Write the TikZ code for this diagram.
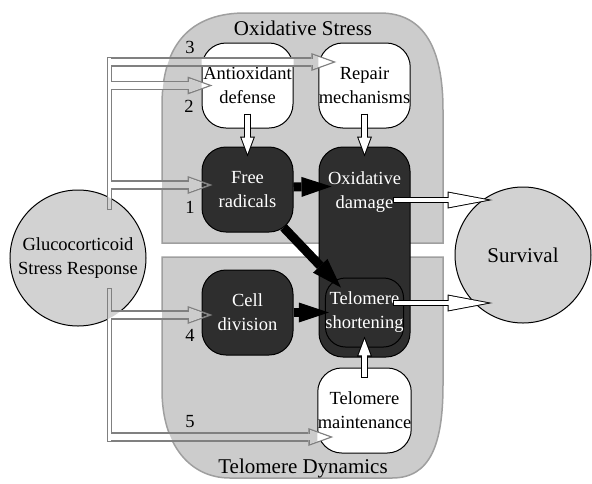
\documentclass[tikz,border=0pt]{standalone}
\usepackage{fontspec}
\setmainfont{Liberation Serif}
\newfontfamily\libserif{Liberation Serif}
\usetikzlibrary{arrows.meta}

\newcommand\boxtxt{\libserif\fontsize{18.5}{24}\selectfont}
\newcommand\titletxt{\libserif\fontsize{21}{25}\selectfont}

\tikzset{
  panel/.style={fill=gray!40, draw=gray!75, line width=1.5pt},
  lightbox/.style={rectangle, rounded corners=24pt, draw=black, line width=1pt, fill=white,
    minimum width=91pt, minimum height=85pt, inner sep=0pt, align=center, font=\boxtxt},
  darkbox/.style={lightbox, fill=black!82, text=white},
  roundnode/.style={circle, draw=black, line width=1pt, fill=gray!35, minimum size=136pt,
    inner sep=0pt, align=center, font=\boxtxt},
  paneltitle/.style={font=\titletxt},
  num/.style={font=\boxtxt, inner sep=0pt},
  % gray hollow arrows (outline pass, then inside pass)
  gtrunk/.style={draw=gray, line width=5.5pt},
  gtrunkin/.style={line width=2.7pt, shorten <=1.4pt, shorten >=1.4pt},
  gbranch/.style={draw=gray, line width=9.5pt, -{Triangle[length=25pt,width=18pt,line width=0pt]}},
  gbranchin/.style={line width=6.7pt, shorten <=1.4pt, shorten >=4.2pt,
    -{Triangle[length=19pt,width=13.6pt,line width=0pt]}},
  % white arrows with black outline
  wsmall/.style={draw=black, line width=7pt, -{Triangle[length=20pt,width=15pt,line width=0pt]}},
  wsmallin/.style={draw=white, line width=5pt, shorten <=1pt, shorten >=2.8pt,
    -{Triangle[length=16pt,width=12pt,line width=0pt]}},
  wlong/.style={draw=black, line width=6.5pt, -{Triangle[length=45pt,width=17pt,line width=0pt]}},
  wlongin/.style={draw=white, line width=4.5pt, shorten <=1pt, shorten >=5pt,
    -{Triangle[length=39pt,width=14.7pt,line width=0pt]}},
  % black arrows
  blackarrow/.style={draw=black, line width=9pt, -{Triangle[length=30pt,width=20pt,line width=0pt]}}
}

\newcommand\graybranches[2]{%
  \draw[#1] (upbot) -- (uptop);
  \draw[#1] (lowtop) -- (lowbot);
  \foreach \from/\to in {b3/t3, b2/t2, b1/t1, b4/t4, b5/t5}
    \draw[#2] (\from) -- (\to);
}
\newcommand\grayinside[1]{\graybranches{gtrunkin, draw=#1}{gbranchin, draw=#1}}

\begin{document}
\begin{tikzpicture}[x=1pt, y=-1pt]
  \useasboundingbox (0,0) rectangle (592,483);

  % panels
  \draw[panel] (162,105) .. controls (162,40) and (195,13) .. (245,13) -- (380,13)
    .. controls (425,13) and (443,50) .. (443,110) -- (443,243) -- (162,243) -- cycle;
  \draw[panel] (162,257) -- (443,257) -- (443,385) .. controls (443,445) and (430,478) .. (392,478)
    -- (230,478) .. controls (190,478) and (162,445) .. (162,390) -- cycle;
  \node[paneltitle] (oxtitle) at (303,28) {Oxidative Stress};
  \node[paneltitle, anchor=base] (teltitle) at (303,473) {Telomere Dynamics};

  % stress response and outcome
  \node[roundnode] (gluco) at (78,258) {Glucocorticoid\\Stress Response};
  \node[roundnode, font=\titletxt] (surv) at (523,255) {Survival};

  % oxidative stress
  \node[lightbox] (antiox) at (247.5,85.5) {Antioxidant\\defense};
  \node[lightbox] (repair) at (364.5,85.5) {Repair\\mechanisms};
  \node[darkbox] (frad) at (247.5,189.5) {Free\\radicals};
  \node[darkbox, minimum height=210pt] (oxdam) at (364.5,252) {};
  \node[font=\boxtxt, text=white, align=center] (oxdamtxt) at (364.5,192) {Oxidative\\damage};

  % telomere dynamics
  \node[darkbox] (celldiv) at (247.5,312.5) {Cell\\division};
  \node[darkbox, minimum width=78pt, minimum height=69pt, rounded corners=20pt] (telsh)
    at (364.5,312.5) {Telomere\\shortening};
  \node[lightbox] (telmain) at (364.5,410.5) {Telomere\\maintenance};

  % black arrows
  \draw[blackarrow] ([yshift=2.5pt]frad.east) -- ([shift={(13,40)}]oxdam.north west);
  \draw[blackarrow, shorten <=-7pt] (frad) -- ([shift={(16,10)}]telsh.north west);
  \draw[blackarrow] (celldiv.east) -- ([xshift=4pt]telsh.west);

  % white arrows
  \coordinate (aoS) at ([yshift=15pt]antiox.south);
  \coordinate (frN) at ([yshift=-10pt]frad.north);
  \coordinate (rpS) at ([yshift=15pt]repair.south);
  \coordinate (odN) at ([yshift=-10pt]oxdam.north);
  \coordinate (tmN) at ([yshift=-10pt]telmain.north);
  \coordinate (tsS) at ([yshift=11pt]telsh.south);
  \foreach \from/\to in {aoS/frN, rpS/odN, tmN/tsS} {
    \draw[wsmall] (\from) -- (\to);
    \draw[wsmallin] (\from) -- (\to);
  }
  \coordinate (oxout) at ([shift={(28.5,-52)}]oxdam.center);
  \coordinate (oxin) at ([shift={(38,-55)}]surv.west);
  \coordinate (telout) at ([shift={(-11.5,-9.5)}]telsh.east);
  \coordinate (telin) at ([shift={(38,48)}]surv.west);
  \foreach \from/\to in {oxout/oxin, telout/telin} {
    \draw[wlong] (\from) -- (\to);
    \draw[wlongin] (\from) -- (\to);
  }

  % gray arrows from the stress response
  \coordinate (upbot) at ([shift={(31.5,-48)}]gluco.center);
  \coordinate (uptop) at (109.5,57);
  \coordinate (lowtop) at ([shift={(31.5,30)}]gluco.center);
  \coordinate (lowbot) at (109.5,442);
  \coordinate (b3) at (107,62);
  \coordinate (b2) at (109.5,85.5);
  \coordinate (b1) at (109.5,185);
  \coordinate (b4) at (109.5,315);
  \coordinate (b5) at (107,437);
  \coordinate (t3) at ([shift={(18,-23.5)}]repair.west);
  \coordinate (t2) at ([xshift=11pt]antiox.west);
  \coordinate (t1) at ([shift={(11,-4.5)}]frad.west);
  \coordinate (t4) at ([shift={(11,2.5)}]celldiv.west);
  \coordinate (t5) at ([shift={(16,26.5)}]telmain.west);

  \graybranches{gtrunk}{gbranch}
  \grayinside{white}
  \begin{scope}
    \clip (162,105) .. controls (162,40) and (195,13) .. (245,13) -- (380,13)
      .. controls (425,13) and (443,50) .. (443,110) -- (443,243) -- (162,243) -- cycle
      (162,257) -- (443,257) -- (443,385) .. controls (443,445) and (430,478) .. (392,478)
      -- (230,478) .. controls (190,478) and (162,445) .. (162,390) -- cycle;
    \grayinside{gray!40}
  \end{scope}
  \begin{scope}
    \clip (gluco) circle (68);
    \grayinside{gray!35}
  \end{scope}
  \begin{scope}
    \clip (antiox.south west) rectangle (antiox.north east)
      (repair.south west) rectangle (repair.north east)
      (telmain.south west) rectangle (telmain.north east);
    \grayinside{white}
  \end{scope}
  \begin{scope}
    \clip (frad.south west) rectangle (frad.north east)
      (celldiv.south west) rectangle (celldiv.north east);
    \grayinside{black!82}
  \end{scope}

  % pathway numbers
  \node[num] (n3) at (190,47) {3};
  \node[num] (n2) at (189,106) {2};
  \node[num] (n1) at (190,207) {1};
  \node[num] (n4) at (190,335) {4};
  \node[num] (n5) at (190,422) {5};
\end{tikzpicture}
\end{document}
